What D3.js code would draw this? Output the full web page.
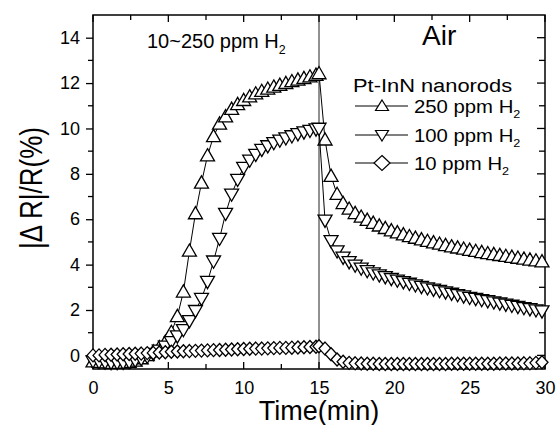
<!DOCTYPE html>
<html>
<head>
<meta charset="utf-8">
<script src="https://cdn.jsdelivr.net/npm/d3@7"></script>
<style>
  html, body { margin: 0; padding: 0; background: #fff; }
  svg { display: block; font-family: Arial, "Liberation Sans", Helvetica, sans-serif; }
</style>
</head>
<body>
<svg id="chart" width="557" height="425"></svg>
<script>
// Sampling times (min): H2 exposure, then air recovery
const timesOn = [0,0.4,0.8,1.2,1.6,2,2.4,2.8,3.2,3.6,4,4.4,4.8,5.2,5.6,6,6.4,6.8,7.2,7.6,8,8.4,8.8,9.2,9.6,10,10.4,10.8,11.2,11.6,12,12.4,12.8,13.2,13.6,14,14.4,14.8,15];
const timesOff = [15.4,15.8,16.2,16.6,17,17.4,17.8,18.2,18.6,19,19.4,19.8,20.2,20.6,21,21.4,21.8,22.2,22.6,23,23.4,23.8,24.2,24.6,25,25.4,25.8,26.2,26.6,27,27.4,27.8,28.2,28.6,29,29.4,29.8];

// |ΔR|/R (%) for each H2 concentration
const ppm250On = [-0.28,-0.3,-0.32,-0.34,-0.34,-0.33,-0.3,-0.24,-0.14,0.0,0.16,0.35,0.59,1.02,1.72,2.8,4.6,6.25,7.6,8.8,9.65,10.2,10.52,10.85,11.06,11.24,11.4,11.53,11.64,11.74,11.83,11.91,11.99,12.07,12.14,12.21,12.28,12.35,12.42];
const ppm250Off = [9.5,7.9,7.1,6.7,6.45,6.26,6.1,5.96,5.83,5.71,5.6,5.5,5.41,5.32,5.24,5.17,5.1,5.03,4.97,4.91,4.85,4.79,4.74,4.69,4.64,4.59,4.54,4.49,4.45,4.41,4.37,4.33,4.29,4.25,4.21,4.17,4.13];
const ppm100On = [-0.25,-0.28,-0.3,-0.32,-0.32,-0.31,-0.28,-0.22,-0.15,-0.05,0.08,0.22,0.4,0.6,0.85,1.13,1.52,1.97,2.5,3.25,4.15,5.15,6.25,7.1,7.75,8.28,8.6,8.85,9.07,9.23,9.37,9.48,9.58,9.67,9.76,9.84,9.91,9.97,10.0];
const ppm100Off = [5.95,5.05,4.6,4.32,4.12,3.97,3.84,3.73,3.63,3.54,3.46,3.38,3.31,3.24,3.17,3.1,3.03,2.97,2.91,2.85,2.79,2.73,2.67,2.61,2.55,2.5,2.45,2.4,2.35,2.3,2.25,2.2,2.15,2.1,2.05,2.0,1.95];
const ppm10On = [0.0,0.0,0.02,0.03,0.04,0.05,0.06,0.07,0.08,0.1,0.11,0.13,0.14,0.16,0.17,0.18,0.19,0.2,0.21,0.22,0.23,0.24,0.25,0.26,0.27,0.28,0.29,0.3,0.3,0.31,0.32,0.33,0.33,0.34,0.35,0.36,0.37,0.38,0.4];
const ppm10Off = [0.3,0.05,-0.18,-0.28,-0.33,-0.35,-0.36,-0.37,-0.37,-0.38,-0.38,-0.38,-0.38,-0.38,-0.38,-0.38,-0.38,-0.38,-0.38,-0.38,-0.38,-0.37,-0.37,-0.37,-0.37,-0.37,-0.37,-0.37,-0.37,-0.36,-0.36,-0.36,-0.36,-0.35,-0.35,-0.33,-0.3];

const seriesNames = ["250 ppm H", "100 ppm H", "10 ppm H"];
const xTicks = [0, 5, 10, 15, 20, 25, 30];
const yTicks = [0, 2, 4, 6, 8, 10, 12, 14];

const svg = d3.select("#chart");
const W = 557, H = 425;
const m = { left: 93, right: 12, top: 15, bottom: 56 };
const x = d3.scaleLinear().domain([0, 30]).range([m.left, W - m.right]);
const y = d3.scaleLinear().domain([-0.6, 15]).range([H - m.bottom, m.top]);

const shapes = {
  up: "M0,-7L7,5.2L-7,5.2Z",
  down: "M0,7L7,-5.2L-7,-5.2Z",
  diamond: "M0,-6.5L6,0L0,6.5L-6,0Z"
};
const legendShapes = {
  up: "M0,-6L6.5,4.5L-6.5,4.5Z",
  down: "M0,6L6.5,-4.5L-6.5,-4.5Z",
  diamond: "M0,-7.5L8,0L0,7.5L-8,0Z"
};

const times = timesOn.concat(timesOff);
const series = [
  { name: seriesNames[0], shape: "up", vals: ppm250On.concat(ppm250Off) },
  { name: seriesNames[1], shape: "down", vals: ppm100On.concat(ppm100Off) },
  { name: seriesNames[2], shape: "diamond", vals: ppm10On.concat(ppm10Off) }
];

// frame
svg.append("rect")
  .attr("x", x(0)).attr("y", y(15))
  .attr("width", x(30) - x(0)).attr("height", y(-0.6) - y(15))
  .attr("fill", "none").attr("stroke", "#000").attr("stroke-width", 1.5);

// H2 off marker
svg.append("line")
  .attr("x1", x(15)).attr("x2", x(15))
  .attr("y1", y(15)).attr("y2", y(-0.6))
  .attr("stroke", "#222").attr("stroke-width", 1);

// axes
const xMinor = d3.range(0, 30.01, 2.5);
const yMinor = d3.range(1, 15, 2);
const tickFont = "Arial, Liberation Sans, sans-serif";
const bottomAxis = d3.axisBottom(x).tickValues(xTicks).tickFormat(d3.format("d")).tickSize(0).tickPadding(12);
svg.append("g").attr("transform", `translate(0,${y(-0.6)})`).call(bottomAxis)
  .call(g => g.select(".domain").remove())
  .selectAll("text").attr("font-size", 18).attr("font-family", tickFont).attr("fill", "#000");
const leftAxis = d3.axisLeft(y).tickValues(yTicks).tickFormat(d3.format("d")).tickSize(7).tickPadding(6);
svg.append("g").attr("transform", `translate(${x(0)},0)`).call(leftAxis)
  .call(g => g.select(".domain").remove())
  .call(g => g.selectAll("line").attr("stroke-width", 1.3))
  .selectAll("text").attr("font-size", 18).attr("font-family", tickFont).attr("fill", "#000");

// minor / inward ticks
const tk = svg.append("g").attr("stroke", "#000").attr("stroke-width", 1.3);
yMinor.forEach(v => tk.append("line").attr("x1", x(0) - 5).attr("x2", x(0)).attr("y1", y(v)).attr("y2", y(v)));
yTicks.concat(yMinor).forEach(v => {
  const L = yTicks.includes(v) ? 8 : 6;
  tk.append("line").attr("x1", x(30) - L).attr("x2", x(30)).attr("y1", y(v)).attr("y2", y(v));
});
xMinor.forEach(v => {
  const L = xTicks.includes(v) ? 7 : 5;
  tk.append("line").attr("x1", x(v)).attr("x2", x(v)).attr("y1", y(-0.6)).attr("y2", y(-0.6) - L);
  tk.append("line").attr("x1", x(v)).attr("x2", x(v)).attr("y1", y(15)).attr("y2", y(15) + L);
});

// series: lines then markers
const line = d3.line().x(d => x(d[0])).y(d => y(d[1]));
series.forEach(s => {
  const pts = times.map((t, i) => [t, s.vals[i]]);
  const g = svg.append("g");
  g.append("path").datum(pts).attr("d", line)
    .attr("fill", "none").attr("stroke", "#000").attr("stroke-width", 1);
  g.selectAll("path.mk").data(pts).join("path").attr("class", "mk")
    .attr("d", shapes[s.shape])
    .attr("transform", d => `translate(${x(d[0])},${y(d[1])})`)
    .attr("fill", "#fff").attr("stroke", "#000").attr("stroke-width", 1.3);
});

// annotations
function subText(tx, ty, size, main, sub, sx) {
  const t = svg.append("text")
    .attr("transform", `translate(${tx},${ty}) scale(${sx || 1},1)`)
    .attr("font-size", size).attr("fill", "#000");
  t.append("tspan").text(main);
  if (sub) t.append("tspan").attr("dy", size * 0.28).attr("font-size", size * 0.62).text(sub);
  return t;
}
subText(147, 48, 20, "10~250 ppm H", "2");
subText(422, 45, 28, "Air");
subText(353, 92, 19, "Pt-InN nanorods", null, 1.15);

const legY = [106, 135, 163];
series.forEach((s, i) => {
  svg.append("line").attr("x1", 355).attr("x2", 408).attr("y1", legY[i]).attr("y2", legY[i])
    .attr("stroke", "#000").attr("stroke-width", 1);
  svg.append("path").attr("d", legendShapes[s.shape])
    .attr("transform", `translate(382,${legY[i]})`)
    .attr("fill", "#fff").attr("stroke", "#000").attr("stroke-width", 1.2);
  subText(414, legY[i] + 6.5, 19, s.name, "2", 1.07);
});

// axis titles
svg.append("text").attr("x", (x(0) + x(30)) / 2).attr("y", 420)
  .attr("text-anchor", "middle").attr("font-size", 27).attr("fill", "#000").text("Time(min)");
svg.append("text").attr("transform", "translate(42,188) rotate(-90) scale(1,1.2)")
  .attr("text-anchor", "middle").attr("font-size", 26).attr("fill", "#000").text("|Δ R|/R(%)");
</script>
</body>
</html>
